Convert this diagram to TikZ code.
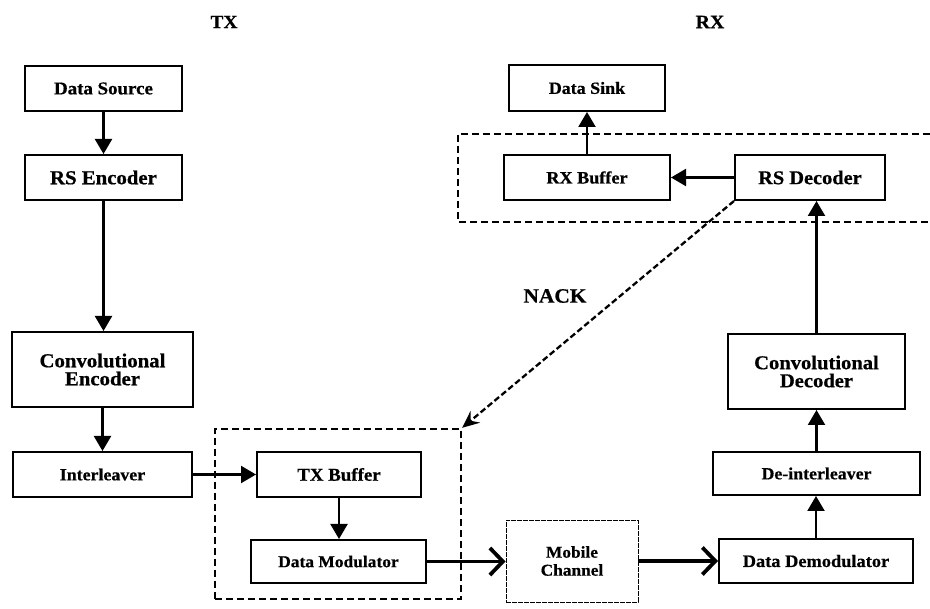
\documentclass[tikz,border=0pt]{standalone}
\usepackage{fontspec}
\setmainfont{Liberation Serif}[FakeStretch=1.05, BoldFeatures={FakeBold=0.6}]
\usetikzlibrary{arrows.meta}
\begin{document}
\begin{tikzpicture}[x=1pt,y=-1pt,
  fsz/.style={font=\bfseries\fontsize{#1pt}{18pt}\selectfont},
  blk/.style={draw, line width=2pt, rectangle, inner sep=0pt, align=center},
  flow/.style={line width=2.2pt, -{Triangle[length=15pt,width=17pt]}},
  chan/.style={line width=3.2pt, -{Straight Barb[length=13pt,width=27pt,line width=3.8pt]}},
  group/.style={line width=2.4pt, dash pattern=on 7pt off 4pt}]
\useasboundingbox (0,0) rectangle (930,609);

% section headings
\node[fsz=18.5] (tx) at (224,22) {TX};
\node[fsz=19] (rx) at (710,22) {RX};

% transmitter chain
\node[blk, fsz=18, minimum width=157pt, minimum height=45pt] (src)  at (103.5,88.5)  {Data Source};
\node[blk, fsz=19.8, minimum width=157pt, minimum height=45pt] (rse)  at (103.5,177.5) {RS Encoder};
\node[blk, fsz=19.8, minimum width=181pt, minimum height=75pt] (cenc) at (102.5,369.5) {Convolutional\\Encoder};
\node[blk, fsz=17, minimum width=179pt, minimum height=45pt] (intl) at (102.5,474.5) {Interleaver};

% retransmission group on the transmit side
\node[draw, group, minimum width=246pt, minimum height=170pt, inner sep=0pt] (txg) at (338,514) {};
\node[blk, fsz=18, minimum width=164pt, minimum height=45pt] (txb) at (339,474.5) {TX Buffer};
\node[blk, fsz=16.6, minimum width=175pt, minimum height=43pt] (mod) at (338.5,561.5) {Data Modulator};

% channel
\node[blk, fsz=16.5, line width=0.9pt, dash pattern=on 5pt off 1pt, minimum width=132pt, minimum height=82pt] (chn) at (572,561) {Mobile\\Channel};

% receiver chain
\node[blk, fsz=17.5, minimum width=194pt, minimum height=44pt] (dem)  at (816,561)   {Data Demodulator};
\node[blk, fsz=17, minimum width=207pt, minimum height=43pt] (dint) at (816.5,473.5) {De-interleaver};
\node[blk, fsz=19.6, minimum width=177pt, minimum height=75pt] (cdec) at (816.5,371.5) {Convolutional\\Decoder};

% receive-side group (runs off the right edge)
\coordinate (rxa) at (930,134);
\coordinate (rxb1) at (458,134);
\coordinate (rxb2) at (458,222);
\coordinate (rxc) at (930,222);
\draw[group] (rxa) -- (rxb1) -- (rxb2) -- (rxc);
\node[blk, fsz=19.4, minimum width=150pt, minimum height=45pt] (rsd)  at (810,177.5) {RS Decoder};
\node[blk, fsz=17.3, minimum width=166pt, minimum height=45pt] (rxb)  at (587,177.5) {RX Buffer};
\node[blk, fsz=17.1, minimum width=156pt, minimum height=46pt] (sink) at (587,88)    {Data Sink};

% connectors
\draw[flow] (src.south) -- (src.south |- rse.north);
\draw[flow] (rse.south) -- (rse.south |- cenc.north);
\draw[flow] (cenc.south) -- (cenc.south |- intl.north);
\draw[flow] (intl.east) -- (txb.west |- intl.east);
\draw[flow] (txb.south) -- (txb.south |- mod.north);
\draw[chan] (mod.east) -- (chn.west |- mod.east);
\draw[chan] (chn.east) -- (dem.west |- chn.east);
\draw[flow] (dem.north) -- (dem.north |- dint.south);
\draw[flow] (dint.north) -- (dint.north |- cdec.south);
\draw[flow] (cdec.north) -- (cdec.north |- rsd.south);
\draw[flow] (rsd.west) -- (rxb.east |- rsd.west);
\draw[flow] (rxb.north) -- (rxb.north |- sink.south);

% negative acknowledgement path
\draw[line width=2.3pt, dash pattern=on 6pt off 3pt, -{Stealth[length=17pt,width=15pt,inset=6pt]}]
  (rsd.south west) -- (txg.north east);
\node[fsz=20.4] (nack) at (555,296) {NACK};
\end{tikzpicture}
\end{document}
